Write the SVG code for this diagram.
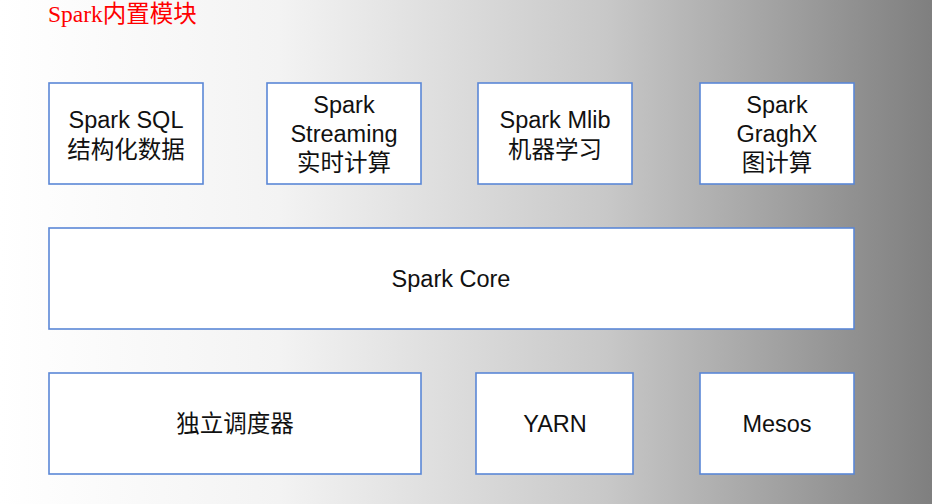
<svg xmlns="http://www.w3.org/2000/svg" width="932" height="504" viewBox="0 0 932 504">
<defs>
<linearGradient id="bg" x1="0" y1="0" x2="1" y2="0">
<stop offset="0" stop-color="#ffffff"/>
<stop offset="0.3" stop-color="#f3f3f3"/>
<stop offset="0.65" stop-color="#c8c8c8"/>
<stop offset="1" stop-color="#7f7f7f"/>
</linearGradient>
<style>
.box{fill:#ffffff;stroke:#5b87d6;stroke-width:1.6}
.t{font-family:"Liberation Sans","Noto Sans CJK SC",sans-serif;font-size:23.5px;fill:#111;text-anchor:middle}
.title{font-family:"Liberation Serif","Noto Sans CJK SC",serif;font-size:23.5px;fill:#ff0000}
</style>
</defs>
<rect x="0" y="0" width="932" height="504" fill="url(#bg)"/>
<text class="title" x="48" y="22">Spark内置模块</text>
<g id="sql"><rect class="box" x="49" y="83" width="154" height="101"/>
<text class="t" x="126" y="128">Spark SQL</text><text class="t" x="126" y="158">结构化数据</text></g>
<g id="streaming"><rect class="box" x="267" y="83" width="154" height="101"/>
<text class="t" x="344" y="113">Spark</text><text class="t" x="344" y="142">Streaming</text><text class="t" x="344" y="171">实时计算</text></g>
<g id="mlib"><rect class="box" x="478" y="83" width="154" height="101"/>
<text class="t" x="555" y="128">Spark Mlib</text><text class="t" x="555" y="158">机器学习</text></g>
<g id="graphx"><rect class="box" x="700" y="83" width="154" height="101"/>
<text class="t" x="777" y="113">Spark</text><text class="t" x="777" y="142">GraghX</text><text class="t" x="777" y="171">图计算</text></g>
<g id="core"><rect class="box" x="49" y="228" width="805" height="101"/>
<text class="t" x="451" y="287">Spark Core</text></g>
<g id="standalone"><rect class="box" x="49" y="373" width="372" height="101"/>
<text class="t" x="235" y="432">独立调度器</text></g>
<g id="yarn"><rect class="box" x="476" y="373" width="157" height="101"/>
<text class="t" x="555" y="432">YARN</text></g>
<g id="mesos"><rect class="box" x="700" y="373" width="154" height="101"/>
<text class="t" x="777" y="432">Mesos</text></g>
<g id="connectors"></g>
</svg>
